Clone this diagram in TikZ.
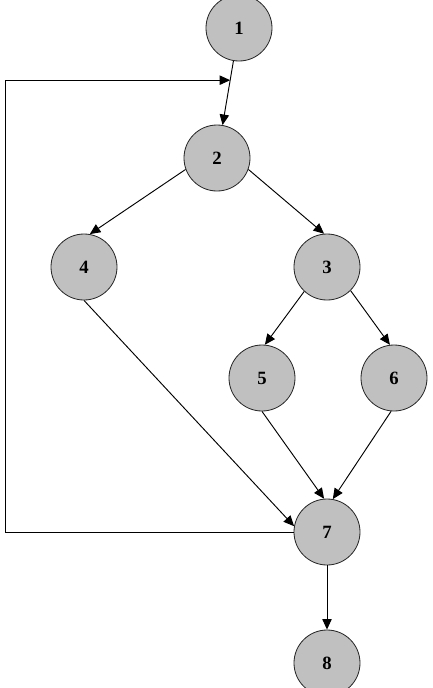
\documentclass[tikz,border=0pt]{standalone}
\usepackage{fontspec}
\setmainfont{Liberation Serif}
\usetikzlibrary{arrows.meta}

\definecolor{nodegray}{RGB}{192,192,192}

\begin{document}
\begin{tikzpicture}[x=0.03cm,y=-0.03cm,
    vertex/.style={circle,draw=black!85,line width=0.7pt,fill=nodegray,
      minimum size=1.98cm,inner sep=0pt,font=\fontsize{16}{19}\selectfont\bfseries},
    flow/.style={-{Triangle[length=9pt,width=8pt]},line width=0.8pt}]

    \useasboundingbox (0,0) rectangle (433,688);

    % --- nodes ---
    \node[vertex] (n1) at (239,28)  {1};
    \node[vertex] (n2) at (217,158) {2};
    \node[vertex] (n4) at (84,267)  {4};
    \node[vertex] (n3) at (327,267) {3};
    \node[vertex] (n5) at (262,378) {5};
    \node[vertex] (n6) at (394,378) {6};
    \node[vertex] (n7) at (327,532) {7};
    \node[vertex] (n8) at (327,663) {8};

    % --- edges ---
    \draw[flow] (n1) -- coordinate[pos=0.3] (join) (n2);
    \draw[flow] (n2.200) -- (n4.80);
    \draw[flow] (n2.340) -- (n3.95);
    \draw[flow] (n3.227) -- (n5.85);
    \draw[flow] (n3.315) -- (n6.97);
    \draw[flow] (n4.south) -- (n7.170);
    \draw[flow] (n5.south) -- (n7.95);
    \draw[flow] (n6.265) -- (n7.80);
    \draw[flow] (n7.south) -- (n8.north);

    % --- back edge (loop) ---
    \draw[flow] (n7.west) -- ++(-288,0) |- (join);

\end{tikzpicture}
\end{document}
